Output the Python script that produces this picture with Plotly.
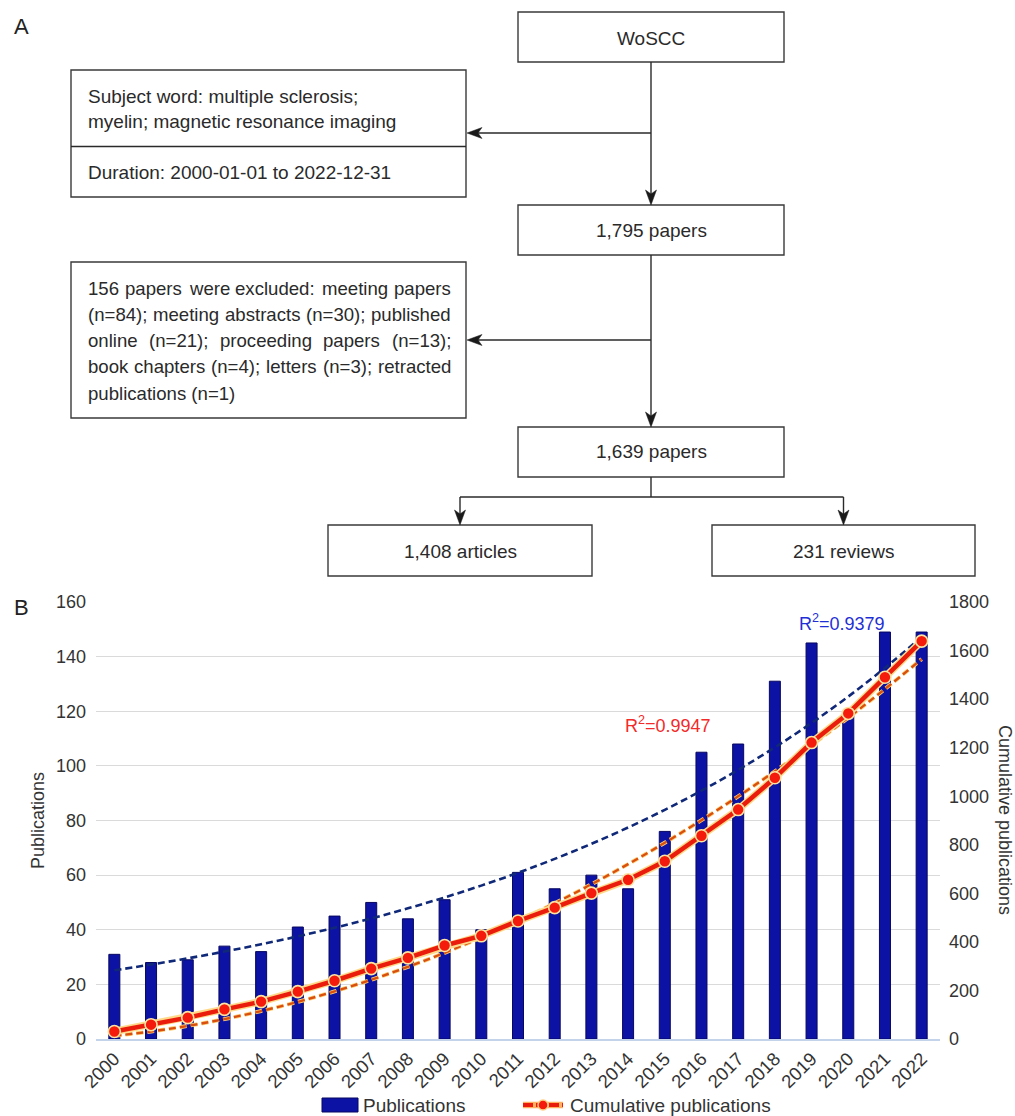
import numpy as np
import plotly.graph_objects as go

# ---------------- data ----------------
years = ["2000", "2001", "2002", "2003", "2004", "2005", "2006", "2007",
         "2008", "2009", "2010", "2011", "2012", "2013", "2014", "2015",
         "2016", "2017", "2018", "2019", "2020", "2021", "2022"]
publications = [31, 28, 29, 34, 32, 41, 45, 50, 44, 51, 40, 61,
                55, 60, 55, 76, 105, 108, 131, 145, 120, 149, 149]
cumulative = [31, 59, 88, 122, 154, 195, 240, 290, 334, 385, 425, 486,
              541, 601, 656, 732, 837, 945, 1076, 1221, 1341, 1490, 1639]
r2_publications = "0.9379"
r2_cumulative = "0.9947"

left_ticks = [0, 20, 40, 60, 80, 100, 120, 140, 160]
right_ticks = [0, 200, 400, 600, 800, 1000, 1200, 1400, 1600, 1800]

# flow chart texts
flow_main = ["WoSCC", "1,795 papers", "1,639 papers"]
flow_search = ["Subject word: multiple sclerosis;",
               "myelin; magnetic resonance imaging"]
flow_duration = "Duration: 2000-01-01 to 2022-12-31"
flow_excluded = ["156 papers were excluded: meeting papers",
                 "(n=84); meeting abstracts (n=30); published",
                 "online (n=21); proceeding papers (n=13);",
                 "book chapters (n=4); letters (n=3); retracted",
                 "publications (n=1)"]
flow_split = ["1,408 articles", "231 reviews"]
legend_labels = ["Publications", "Cumulative publications"]

# ---------------- geometry helpers (pixel -> paper) ----------------
W, H = 1015, 1116
FONT = "Liberation Sans, Arial, sans-serif"
INK = "#2a2a2a"
BAR_BLUE = "#0c12a4"
LINE_RED = "#ea1d0c"
FLOW_SIZE = 19
NOTE_SIZE = 18.6


def px(x):
    return x / W


def py(y):
    return 1 - y / H


shapes = []
annotations = []


def rect(x0, y0, x1, y1, color="#3a3a3a", fill="white", width=1.4):
    shapes.append(dict(type="rect", xref="paper", yref="paper",
                       x0=px(x0), x1=px(x1), y0=py(y0), y1=py(y1),
                       line=dict(color=color, width=width),
                       fillcolor=fill, layer="above"))


def seg(x0, y0, x1, y1, color="#2a2a2a", width=1.4, dash=None):
    shapes.append(dict(type="line", xref="paper", yref="paper",
                       x0=px(x0), x1=px(x1), y0=py(y0), y1=py(y1),
                       line=dict(color=color, width=width, dash=dash)))


def poly(points):
    path = "M " + " L ".join(f"{px(a):.5f},{py(b):.5f}" for a, b in points) + " Z"
    shapes.append(dict(type="path", xref="paper", yref="paper", path=path,
                       fillcolor="#1a1a1a", line=dict(color="#1a1a1a", width=0.5)))


def head_down(x, tip):
    poly([(x, tip), (x - 5.5, tip - 15), (x, tip - 11), (x + 5.5, tip - 15)])


def head_left(tip, y):
    poly([(tip, y), (tip + 15, y - 5.5), (tip + 11, y), (tip + 15, y + 5.5)])


def text(x, y, s, size=FLOW_SIZE, anchor="left", color=INK):
    annotations.append(dict(xref="paper", yref="paper", x=px(x), y=py(y),
                            text=s, showarrow=False, xanchor=anchor,
                            yanchor="middle", align=anchor, borderpad=0,
                            font=dict(family=FONT, size=size, color=color)))


# Arial / Liberation Sans advance widths (1/1000 em) used to justify lines
ADV = {" ": 278, "(": 333, ")": 333, ";": 278, ":": 278, "=": 584, ",": 278,
       "-": 333, "a": 556, "b": 556, "c": 500, "d": 556, "e": 556, "f": 278,
       "g": 556, "h": 556, "i": 222, "j": 222, "k": 500, "l": 222, "m": 833,
       "n": 556, "o": 556, "p": 556, "q": 556, "r": 333, "s": 500, "t": 278,
       "u": 556, "v": 500, "w": 722, "x": 500, "y": 500, "z": 500}


def word_width(w, size):
    return sum(ADV.get(ch, 556) for ch in w) * size / 1000.0


def justified(x0, x1, y, line, size):
    words = line.split(" ")
    widths = [word_width(w, size) for w in words]
    gap = (x1 - x0 - sum(widths)) / (len(words) - 1)
    x = x0
    for w, ww in zip(words, widths):
        text(x, y, w, size=size)
        x += ww + gap


# ---------------- panel A: flow chart ----------------
cx = 651
rect(518, 12, 784, 62)
text(cx, 38, flow_main[0], anchor="center")
rect(518, 205, 784, 255)
text(cx, 230, flow_main[1], anchor="center")
rect(518, 427, 784, 477)
text(cx, 452, flow_main[2], anchor="center")

rect(71, 70, 466, 197)
seg(71, 146.5, 466, 146.5)
text(87, 97, flow_search[0])
text(87, 122, flow_search[1])
text(87, 172, flow_duration)

rect(71, 262, 466, 418)
for i, line in enumerate(flow_excluded):
    yy = 288 + i * 26.3
    if i < len(flow_excluded) - 1:
        justified(87, 450, yy, line, NOTE_SIZE)
    else:
        text(87, yy, line, size=NOTE_SIZE)

rect(328, 525, 592, 576)
text(460, 551, flow_split[0], anchor="center")
rect(712, 525, 975, 576)
text(843.5, 551, flow_split[1], anchor="center")

seg(cx, 62, cx, 200)
head_down(cx, 205)
seg(cx, 133, 475, 133)
head_left(467, 133)
seg(cx, 255, cx, 420)
head_down(cx, 427)
seg(cx, 340, 475, 340)
head_left(467, 340)
seg(cx, 477, cx, 497)
seg(460, 497, 843.5, 497)
seg(460, 497, 460, 520)
head_down(460, 525)
seg(843.5, 497, 843.5, 520)
head_down(843.5, 525)

text(21, 27, "A", size=22, anchor="center", color="#222")
text(21, 607, "B", size=22, anchor="center", color="#222")

# ---------------- panel B: bar + cumulative chart ----------------
t = np.arange(1, len(years) + 1)
# exponential trend for yearly output
slope, icpt = np.polyfit(t, np.log(publications), 1)
pub_trend = np.exp(icpt + slope * t)
# second-order polynomial trend (through the origin) for the cumulative total
design = np.column_stack([t, t ** 2]).astype(float)
coef, *_ = np.linalg.lstsq(design, np.asarray(cumulative, float), rcond=None)
cum_trend = design @ coef

fig = go.Figure()
fig.add_trace(go.Bar(
    x=years, y=publications, name=legend_labels[0], width=0.3,
    marker=dict(color=BAR_BLUE, line=dict(color="#070760", width=1)),
    yaxis="y"))
fig.add_trace(go.Scatter(
    x=years, y=pub_trend, mode="lines", yaxis="y",
    line=dict(color="#102878", width=2.6, dash="7px,4px", shape="spline")))
fig.add_trace(go.Scatter(
    x=years, y=cum_trend, mode="lines", yaxis="y2",
    line=dict(color="#ffd27a", width=4, dash="7px,4px", shape="spline"),
    hoverinfo="skip"))
fig.add_trace(go.Scatter(
    x=years, y=cum_trend, mode="lines", yaxis="y2",
    line=dict(color="#d9500e", width=2.4, dash="7px,4px", shape="spline")))
fig.add_trace(go.Scatter(
    x=years, y=cumulative, mode="lines", yaxis="y2",
    line=dict(color="#ffd98a", width=7.5), hoverinfo="skip"))
fig.add_trace(go.Scatter(
    x=years, y=cumulative, mode="lines+markers", name=legend_labels[1],
    yaxis="y2",
    line=dict(color=LINE_RED, width=4.5),
    marker=dict(size=12, color="#f41a0c", line=dict(color="#ffe3a0", width=1.6))))

text(842, 622, f"R<sup>2</sup>={r2_publications}", size=18,
     anchor="center", color="#1f2fd6")
text(668, 724, f"R<sup>2</sup>={r2_cumulative}", size=18,
     anchor="center", color="#f22a2a")

annotations.append(dict(xref="paper", yref="paper", x=px(38), y=py(821),
                        text="Publications", textangle=-90, showarrow=False,
                        xanchor="center", yanchor="middle",
                        font=dict(family=FONT, size=18, color="#333")))
annotations.append(dict(xref="paper", yref="paper", x=px(1005), y=py(820),
                        text="Cumulative publications", textangle=90,
                        showarrow=False, xanchor="center", yanchor="middle",
                        font=dict(family=FONT, size=18, color="#333")))

# legend drawn below the x axis
rect(322, 1098, 358, 1112, color="#070760", fill=BAR_BLUE, width=1)
text(362, 1105, legend_labels[0], size=19, color="#333")
seg(523, 1105, 563, 1105, color="#ffb060", width=6.5)
seg(523, 1105, 563, 1105, color=LINE_RED, width=4, dash="10px,3px")
shapes.append(dict(type="circle", xref="paper", yref="paper",
                   x0=px(538), x1=px(548), y0=py(1100), y1=py(1110),
                   fillcolor="#f41a0c", line=dict(color="#ffcf80", width=1.4)))
text(569, 1105, legend_labels[1], size=19, color="#333")

tick_font = dict(family=FONT, size=18, color="#333")
fig.update_layout(
    width=W, height=H, autosize=False,
    margin=dict(l=0, r=0, t=0, b=0, pad=0, autoexpand=False),
    paper_bgcolor="white", plot_bgcolor="white",
    font=dict(family=FONT, size=18, color="#333"),
    showlegend=False,
    xaxis=dict(domain=[px(96), px(940)], type="category", range=[-0.5, 22.5],
               tickangle=-45, tickfont=dict(family=FONT, size=18.5, color="#333"),
               showline=True, linecolor="#c3d4ea", linewidth=1.5,
               showgrid=False, ticks="", fixedrange=True, automargin=False),
    yaxis=dict(domain=[py(1039), py(602)], range=[0, 160], tickvals=left_ticks,
               showgrid=True, gridcolor="#dadada", gridwidth=1,
               zeroline=False, tickfont=tick_font, ticklabelstandoff=9,
               automargin=False),
    yaxis2=dict(overlaying="y", side="right", range=[0, 1800],
                tickvals=right_ticks, showgrid=False, zeroline=False,
                tickfont=tick_font, ticklabelstandoff=8, automargin=False),
    shapes=shapes, annotations=annotations,
)

fig.write_html("out.html")
